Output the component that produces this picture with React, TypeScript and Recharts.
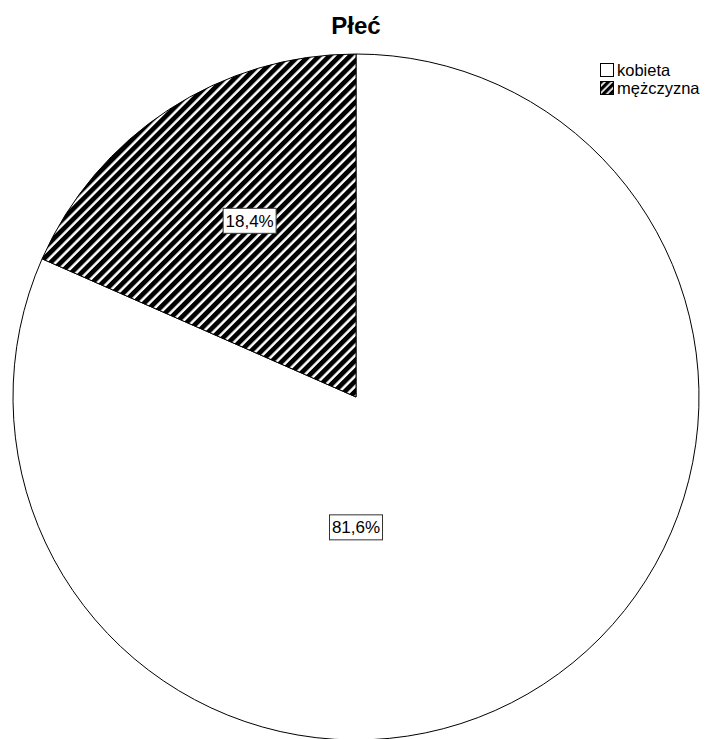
import { PieChart, Pie, Cell, Legend } from 'recharts'

const chartTitle = 'Płeć'
const categories = ['kobieta', 'mężczyzna']
const percents = [81.6, 18.4]
const fills = ['#ffffff', 'url(#hatch)']

const data = categories.map((name, i) => ({ name, value: percents[i] }))

const FONT = '"Liberation Sans", Arial, sans-serif'
const RAD = Math.PI / 180

function formatPct(v: number) {
    return v.toFixed(1).replace('.', ',') + '%'
}

function renderLabel(props: any) {
    const { cx, cy, midAngle, outerRadius, index, value } = props
    let x, y
    if (index === 0) {
        x = cx
        y = cy + outerRadius * 0.38
    } else {
        x = cx + outerRadius * 0.6 * Math.cos(-(midAngle - 2) * RAD)
        y = cy + outerRadius * 0.6 * Math.sin(-(midAngle - 2) * RAD)
    }
    const w = 53
    const h = 25
    return (
        <g>
            <rect x={x - w / 2} y={y - h / 2} width={w} height={h} fill="#fff" stroke="#333" strokeWidth={1} />
            <text x={x} y={y + 6} textAnchor="middle" fontSize={17} fontFamily={FONT} fill="#000">
                {formatPct(value)}
            </text>
        </g>
    )
}

function HatchIcon({ id }: { id: string }) {
    return (
        <svg width={14} height={14} style={{ display: 'block' }}>
            <defs>
                <pattern id={id} patternUnits="userSpaceOnUse" width={5} height={5} patternTransform="rotate(45)">
                    <rect width={5} height={5} fill="#fff" />
                    <rect width={3.3} height={5} fill="#000" />
                </pattern>
            </defs>
            <rect x={0.5} y={0.5} width={13} height={13} fill={`url(#${id})`} stroke="#000" />
        </svg>
    )
}

function renderLegend() {
    return (
        <div style={{ fontFamily: FONT, fontSize: 16.5, lineHeight: '18px' }}>
            {categories.map((name, i) => (
                <div key={name} style={{ display: 'flex', alignItems: 'center', height: 18 }}>
                    {i === 0 ? (
                        <svg width={14} height={14} style={{ display: 'block' }}>
                            <rect x={0.5} y={0.5} width={13} height={13} fill="#fff" stroke="#000" />
                        </svg>
                    ) : (
                        <HatchIcon id="hatchLegend" />
                    )}
                    <span style={{ marginLeft: 3 }}>{name}</span>
                </div>
            ))}
        </div>
    )
}

export default function App() {
    return (
        <div style={{ position: 'absolute', left: 0, top: 0, width: 709, height: 739, background: '#fff', overflow: 'hidden' }}>
            <div style={{ position: 'absolute', top: 12, left: 0, width: 712, textAlign: 'center', fontFamily: FONT, fontWeight: 'bold', fontSize: 24 }}>
                {chartTitle}
            </div>
            <PieChart width={709} height={739} margin={{ top: 0, right: 0, bottom: 0, left: 0 }}>
                <defs>
                    <pattern id="hatch" patternUnits="userSpaceOnUse" width={7.3} height={7.3} patternTransform="rotate(45)">
                        <rect width={7.3} height={7.3} fill="#fff" />
                        <rect width={4.8} height={7.3} fill="#000" />
                    </pattern>
                </defs>
                <Pie
                    data={data}
                    dataKey="value"
                    nameKey="name"
                    cx={356}
                    cy={397}
                    outerRadius={343}
                    startAngle={90}
                    endAngle={-270}
                    stroke="#000"
                    strokeWidth={1}
                    label={renderLabel}
                    labelLine={false}
                    isAnimationActive={false}
                >
                    {data.map((entry, i) => (
                        <Cell key={entry.name} fill={fills[i]} />
                    ))}
                </Pie>
                <Legend
                    content={renderLegend}
                    wrapperStyle={{ position: 'absolute', top: 61, left: 600, width: 120 }}
                />
            </PieChart>
        </div>
    )
}
